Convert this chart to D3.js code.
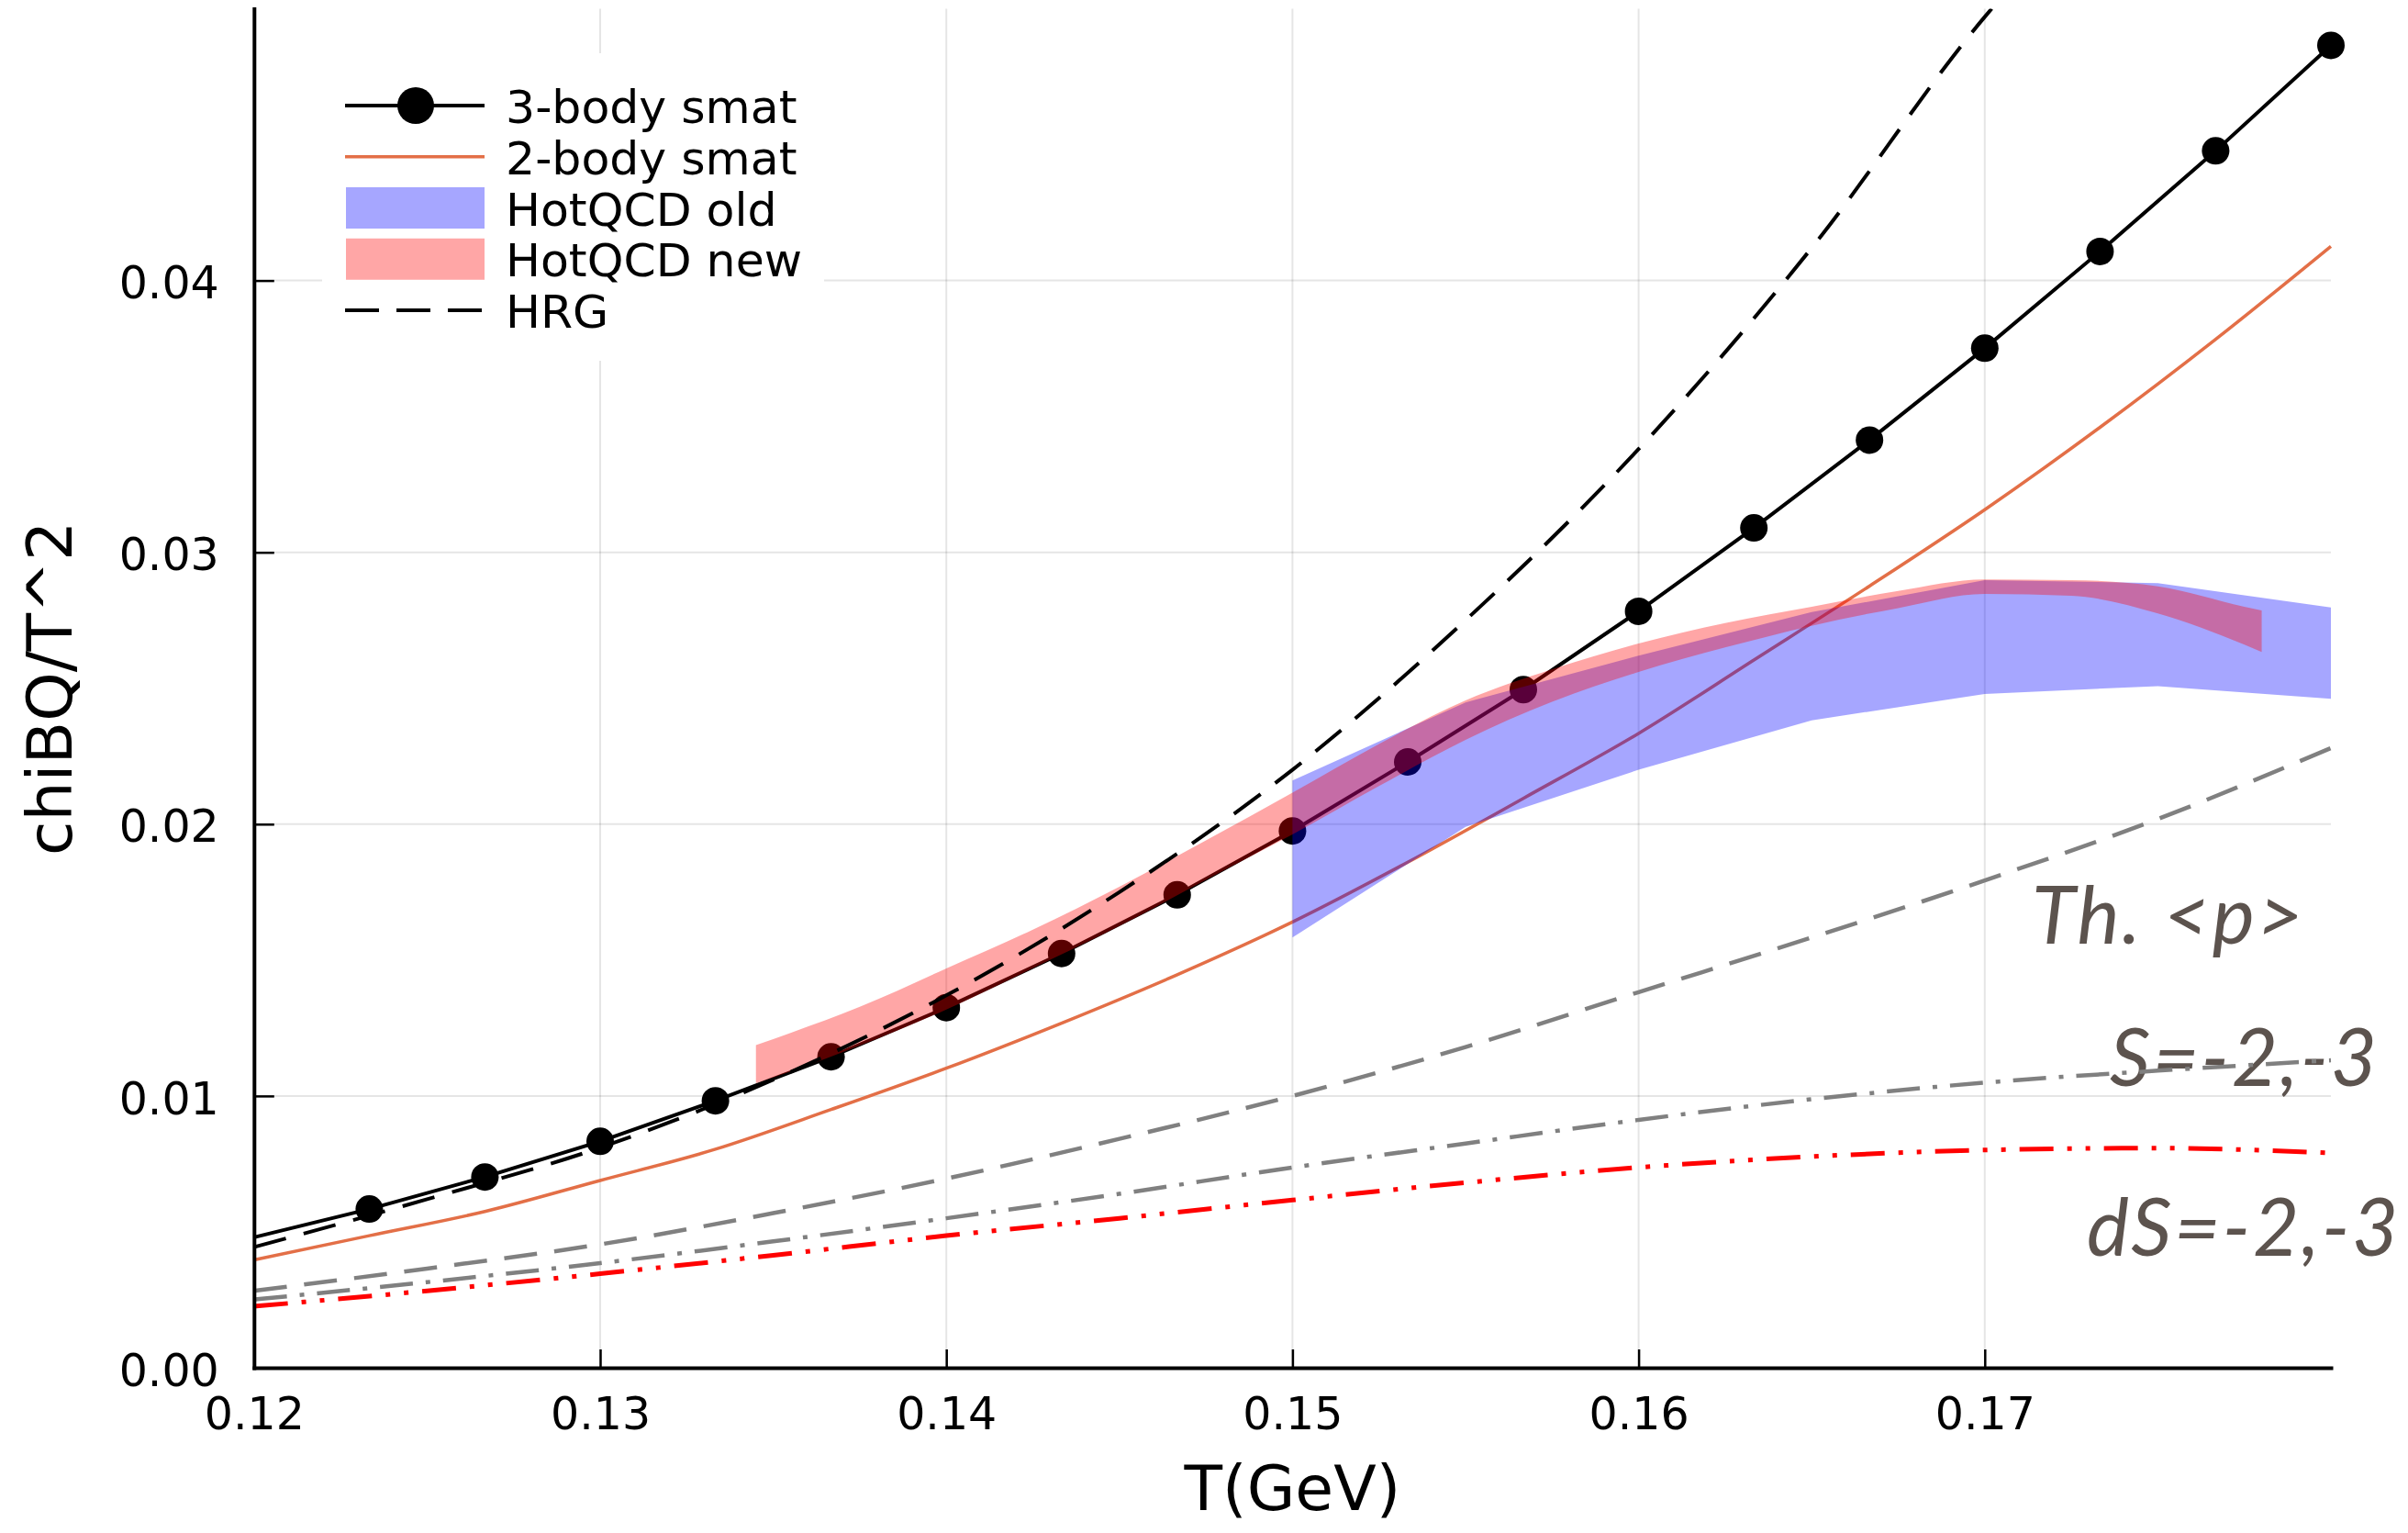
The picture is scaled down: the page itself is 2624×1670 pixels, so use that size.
<!DOCTYPE html>
<html>
<head>
<meta charset="utf-8">
<script src="https://cdn.jsdelivr.net/npm/d3@7"></script>
<style>
body { margin: 0; background: #fff; }
</style>
</head>
<body>
<script>
// temperature grid of the smat curves (GeV)
var tSmat = [0.12, 0.12333, 0.12667, 0.13, 0.13333, 0.13667, 0.14, 0.14333, 0.14667, 0.15,
             0.15333, 0.15667, 0.16, 0.16333, 0.16667, 0.17, 0.17333, 0.17667, 0.18];
// 3-body smat (line + markers, first point has no marker)
var body3 = [0.00480, 0.00584, 0.00702, 0.00833, 0.00982, 0.01144, 0.01325, 0.01524, 0.01740, 0.01975,
             0.02229, 0.02495, 0.02783, 0.03090, 0.03413, 0.03751, 0.04107, 0.04477, 0.04865];
// 2-body smat
var body2 = [0.00397, 0.00486, 0.00575, 0.00689, 0.00804, 0.00950, 0.01102, 0.01268, 0.01446, 0.01640,
             0.01860, 0.02095, 0.02334, 0.02604, 0.02876, 0.03157, 0.03460, 0.03784, 0.04126];

// coarse grid for HRG and the partial contributions
var tCoarse = [0.12, 0.125, 0.13, 0.135, 0.14, 0.145, 0.15, 0.155, 0.16, 0.165, 0.17, 0.175, 0.18];
var tHrg = [0.12, 0.125, 0.13, 0.135, 0.14, 0.145, 0.15, 0.155, 0.16, 0.165, 0.17, 0.1702];
var hrg = [0.00444, 0.0062, 0.0081, 0.0106, 0.0137, 0.0175, 0.0220, 0.0275, 0.0338, 0.0412, 0.0497, 0.0500];
var thP = [0.00283, 0.00365, 0.00454, 0.00569, 0.00696, 0.00842, 0.01000, 0.01180, 0.01382, 0.01583, 0.01793, 0.02019, 0.02280];
var sPart = [0.00251, 0.00315, 0.00385, 0.00465, 0.00550, 0.00640, 0.00737, 0.00825, 0.00912, 0.00988, 0.01049, 0.01093, 0.01131];
var dsPart = [0.00226, 0.00283, 0.00346, 0.00414, 0.00486, 0.00550, 0.00617, 0.00681, 0.00737, 0.00777, 0.00801, 0.00808, 0.00790];

// HotQCD old band
var tOld = [0.15, 0.155, 0.16, 0.165, 0.17, 0.175, 0.18];
var oldHi = [0.02161, 0.02448, 0.02620, 0.02780, 0.02898, 0.02887, 0.02797];
var oldLo = [0.01583, 0.01990, 0.02200, 0.02382, 0.02479, 0.02508, 0.02461];

// HotQCD new band
var tNew = [0.1345, 0.1355, 0.1375, 0.14, 0.1425, 0.145, 0.1475, 0.15, 0.1525, 0.155,
            0.1575, 0.16, 0.1625, 0.165, 0.1675, 0.17, 0.1725, 0.175, 0.1775, 0.178];
var newHi = [0.01187, 0.01232, 0.01328, 0.01469, 0.01612, 0.01770, 0.01940, 0.02116, 0.02295, 0.02455,
             0.02570, 0.02665, 0.02740, 0.02800, 0.02858, 0.02900, 0.02898, 0.02875, 0.02800, 0.02786];
var newLo = [0.01047, 0.01090, 0.01185, 0.01318, 0.01470, 0.01625, 0.01795, 0.01962, 0.02140, 0.02310,
             0.02450, 0.02560, 0.02650, 0.02730, 0.02795, 0.02847, 0.02840, 0.02775, 0.02660, 0.02633];

var xTicks = [0.12, 0.13, 0.14, 0.15, 0.16, 0.17];
var yTicks = [0.00, 0.01, 0.02, 0.03, 0.04];

var legendNames = ["3-body smat", "2-body smat", "HotQCD old", "HotQCD new", "HRG"];

// text labels placed in data coordinates (baseline, left edge)
var noteText = ["Th. <p>", "S=-2,-3", "dS=-2,-3"];
var noteT = [0.17136, 0.17361, 0.17295];
var noteV = [0.01560, 0.01036, 0.00412];

var W = 2624, H = 1670;
var svg = d3.select("body").append("svg").attr("width", W).attr("height", H)
    .style("font-family", "'DejaVu Sans', sans-serif");

var x = d3.scaleLinear().domain([0.12, 0.18]).range([276.8, 2540]);
var y = d3.scaleLinear().domain([0, 0.05]).range([1490, 9.5]);

svg.append("defs").append("clipPath").attr("id", "plotclip")
    .append("rect").attr("x", x(0.12)).attr("y", y(0.05))
    .attr("width", x(0.18) - x(0.12)).attr("height", y(0) - y(0.05));

// grid
svg.append("g").selectAll("line").data(xTicks.slice(1)).enter().append("line")
    .attr("x1", function(d) { return x(d); }).attr("x2", function(d) { return x(d); })
    .attr("y1", y(0)).attr("y2", y(0.05))
    .attr("stroke", "#000").attr("stroke-opacity", 0.1).attr("stroke-width", 2);
svg.append("g").selectAll("line").data(yTicks.slice(1)).enter().append("line")
    .attr("y1", function(d) { return y(d); }).attr("y2", function(d) { return y(d); })
    .attr("x1", x(0.12)).attr("x2", x(0.18))
    .attr("stroke", "#000").attr("stroke-opacity", 0.1).attr("stroke-width", 2);

function pts(ts, vs) { return ts.map(function(t, i) { return [t, vs[i]]; }); }
function bandPts(ts, lo, hi) { return ts.map(function(t, i) { return [t, lo[i], hi[i]]; }); }

var lineLin = d3.line().x(function(d) { return x(d[0]); }).y(function(d) { return y(d[1]); });
var lineSmooth = d3.line().curve(d3.curveMonotoneX)
    .x(function(d) { return x(d[0]); }).y(function(d) { return y(d[1]); });

// annotations (under the curves)
svg.append("g").selectAll("text").data(noteText).enter().append("text")
    .attr("x", function(d, i) { return x(noteT[i]); })
    .attr("y", function(d, i) { return y(noteV[i]); })
    .attr("font-family", "Lato, 'Open Sans', sans-serif")
    .attr("font-style", "italic")
    .attr("font-size", 87)
    .attr("letter-spacing", 2.5)
    .attr("fill", "#5c534e")
    .text(function(d) { return d; });

// 3-body smat
var s3 = pts(tSmat, body3);
svg.append("path").datum(s3).attr("d", lineLin)
    .attr("fill", "none").attr("stroke", "#000").attr("stroke-width", 4);
svg.append("g").selectAll("circle").data(s3.slice(1)).enter().append("circle")
    .attr("cx", function(d) { return x(d[0]); }).attr("cy", function(d) { return y(d[1]); })
    .attr("r", 15).attr("fill", "#000");

// 2-body smat
svg.append("path").datum(pts(tSmat, body2)).attr("d", lineSmooth)
    .attr("fill", "none").attr("stroke", "#e36f47").attr("stroke-width", 3.5);

// bands
var areaLin = d3.area().x(function(d) { return x(d[0]); })
    .y0(function(d) { return y(d[1]); }).y1(function(d) { return y(d[2]); });
var areaSmooth = d3.area().curve(d3.curveMonotoneX).x(function(d) { return x(d[0]); })
    .y0(function(d) { return y(d[1]); }).y1(function(d) { return y(d[2]); });

svg.append("path").datum(bandPts(tOld, oldLo, oldHi)).attr("d", areaLin)
    .attr("fill", "#0000ff").attr("fill-opacity", 0.35);
svg.append("path").datum(bandPts(tNew, newLo, newHi)).attr("d", areaSmooth)
    .attr("fill", "#ff0000").attr("fill-opacity", 0.35);

// HRG
svg.append("path").datum(pts(tHrg, hrg)).attr("d", lineSmooth)
    .attr("clip-path", "url(#plotclip)")
    .attr("fill", "none").attr("stroke", "#000").attr("stroke-width", 4)
    .attr("stroke-dasharray", "36,20");

// partial contributions
svg.append("path").datum(pts(tCoarse, thP)).attr("d", lineSmooth)
    .attr("fill", "none").attr("stroke", "#808080").attr("stroke-width", 4.5)
    .attr("stroke-dasharray", "36,19");
svg.append("path").datum(pts(tCoarse, sPart)).attr("d", lineSmooth)
    .attr("fill", "none").attr("stroke", "#808080").attr("stroke-width", 4.5)
    .attr("stroke-dasharray", "36,14,5,14");
svg.append("path").datum(pts(tCoarse, dsPart)).attr("d", lineSmooth)
    .attr("fill", "none").attr("stroke", "#ff0000").attr("stroke-width", 5)
    .attr("stroke-dasharray", "37,15,5,15,5,15");

// axes
var xAxis = d3.axisBottom(x).tickValues(xTicks).tickFormat(d3.format(".2f"))
    .tickSizeInner(-20).tickSizeOuter(0).tickPadding(32);
var yAxis = d3.axisLeft(y).tickValues(yTicks).tickFormat(d3.format(".2f"))
    .tickSizeInner(-22).tickSizeOuter(0).tickPadding(38);

var gx = svg.append("g").attr("transform", "translate(0," + y(0) + ")").call(xAxis);
var gy = svg.append("g").attr("transform", "translate(" + x(0.12) + ",0)").call(yAxis);
[gx, gy].forEach(function(g) {
    g.attr("font-family", "'DejaVu Sans', sans-serif").attr("font-size", 49);
    g.select(".domain").attr("stroke", "#000").attr("stroke-width", 4).attr("stroke-linecap", "square");
    g.selectAll(".tick line").attr("stroke", "#000").attr("stroke-width", 2.5);
    g.selectAll(".tick text").attr("fill", "#000");
});
gy.selectAll(".tick text").attr("dy", "0.39em");

// axis titles
svg.append("text").attr("x", (x(0.12) + x(0.18)) / 2).attr("y", 1645)
    .attr("text-anchor", "middle").attr("font-size", 68).text("T(GeV)");
svg.append("text").attr("transform", "translate(78," + (y(0) + y(0.05)) / 2 + ") rotate(-90)")
    .attr("text-anchor", "middle").attr("font-size", 68).text("chiBQ/T^2");

// legend
var lg = svg.append("g");
lg.append("rect").attr("x", 351).attr("y", 58).attr("width", 547).attr("height", 335).attr("fill", "#fff");
var rowY = function(i) { return 115 + i * 55.75; };
lg.append("line").attr("x1", 376).attr("x2", 528).attr("y1", rowY(0)).attr("y2", rowY(0))
    .attr("stroke", "#000").attr("stroke-width", 4);
lg.append("circle").attr("cx", 453).attr("cy", rowY(0)).attr("r", 20).attr("fill", "#000");
lg.append("line").attr("x1", 376).attr("x2", 528).attr("y1", rowY(1)).attr("y2", rowY(1))
    .attr("stroke", "#e36f47").attr("stroke-width", 3.5);
lg.append("rect").attr("x", 377).attr("y", rowY(2) - 22.5).attr("width", 151).attr("height", 45)
    .attr("fill", "#0000ff").attr("fill-opacity", 0.35);
lg.append("rect").attr("x", 377).attr("y", rowY(3) - 22.5).attr("width", 151).attr("height", 45)
    .attr("fill", "#ff0000").attr("fill-opacity", 0.35);
lg.append("line").attr("x1", 376).attr("x2", 528).attr("y1", rowY(4)).attr("y2", rowY(4))
    .attr("stroke", "#000").attr("stroke-width", 4).attr("stroke-dasharray", "37,19");
lg.selectAll("text.lab").data(legendNames).enter().append("text").attr("class", "lab")
    .attr("x", 551).attr("y", function(d, i) { return rowY(i) + 19; })
    .attr("font-size", 50.5).text(function(d) { return d; });
</script>
</body>
</html>
